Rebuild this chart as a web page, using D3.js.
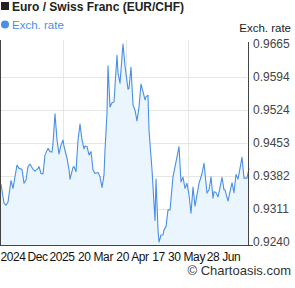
<!DOCTYPE html>
<html>
<head>
<meta charset="utf-8">
<script src="https://d3js.org/d3.v7.min.js"></script>
<style>
  body { margin: 0; background: #fff; }
  text { font-family: "Liberation Sans", Arial, sans-serif; }
</style>
</head>
<body>
<div class="chart"></div>
<script>
// day offsets along the x axis and the EUR/CHF rate
var days = [0,3,5,7,10,12,14,16,18,21,23,25,27,29,32,34,37,38,40,42,
  44,47,49,51,52,54,56,58,60,62,63,66,68,69,72,73,75,77,79,81,
  83,84,86,88,90,92,94,97,99,101,103,104,106,107,109,111,113,116,117,119,
  122,124,127,128,130,132,134,136,138,140,142,144,145,147,148,151,152,154,155,157,
  158,160,162,163,165,167,169,172,175,178,180,182,184,186,188,190,192,194,196,198,
  201,203,206,208,210,212,213,215,217,218,221,223,224,227,229,231,233,235,237,239,
  241,243,246,248];
var rates = [0.9364,0.9323,0.9319,0.9326,0.9372,0.9355,0.9380,0.9405,0.9398,0.9396,
  0.9366,0.9373,0.9402,0.9407,0.9396,0.9392,0.9398,0.9402,0.9387,0.9386,
  0.9427,0.9441,0.9434,0.9433,0.9452,0.9515,0.9459,0.9429,0.9448,0.9459,
  0.9445,0.9420,0.9395,0.9375,0.9400,0.9402,0.9391,0.9459,0.9493,0.9459,
  0.9440,0.9446,0.9445,0.9427,0.9434,0.9395,0.9387,0.9389,0.9380,0.9357,
  0.9384,0.9437,0.9517,0.9618,0.9530,0.9539,0.9541,0.9641,0.9603,0.9581,
  0.9665,0.9618,0.9568,0.9570,0.9615,0.9534,0.9523,0.9500,0.9530,0.9579,
  0.9563,0.9545,0.9552,0.9555,0.9480,0.9395,0.9359,0.9286,0.9375,0.9266,
  0.9240,0.9255,0.9255,0.9266,0.9273,0.9309,0.9309,0.9380,0.9412,0.9445,
  0.9369,0.9379,0.9355,0.9366,0.9341,0.9302,0.9358,0.9317,0.9341,0.9366,
  0.9387,0.9409,0.9345,0.9352,0.9380,0.9334,0.9348,0.9346,0.9337,0.9346,
  0.9379,0.9352,0.9352,0.9328,0.9348,0.9367,0.9346,0.9385,0.9375,0.9398,
  0.9422,0.9377,0.9377,0.9398];

var yTicks = [0.9240, 0.9311, 0.9382, 0.9453, 0.9524, 0.9594, 0.9665];
var xGridDays = [62, 125, 187];
var xLabels = ["2024", "Dec", "2025", "20 Mar", "20 Apr", "17", "30 May", "28 Jun"];
var xLabelDays = [11.5, 36, 60.5, 94, 131, 157, 185, 222];

var svgWidth = 295;
var svgHeight = 288;
var margin = { top: 40, right: 46, bottom: 42, left: 1 };
var width = svgWidth - margin.left - margin.right;
var height = svgHeight - margin.top - margin.bottom;

var svg = d3.select(".chart")
  .append("svg")
  .attr("width", svgWidth)
  .attr("height", svgHeight);

var chart = svg.append("g")
  .attr("transform", "translate(" + margin.left + "," + margin.top + ")");

var xScale = d3.scaleLinear().domain([0, 248]).range([0, width]);
var yScale = d3.scaleLinear().domain([0.9240, 0.9665]).range([202, 4]);

var data = days.map(function(d, i) { return { day: d, rate: rates[i] }; });

// grid
chart.selectAll(".hgrid")
  .data(yTicks.slice(1, -1))
  .enter().append("line")
    .attr("x1", 0).attr("x2", width - 2)
    .attr("y1", function(d) { return Math.round(yScale(d)) + 0.5; })
    .attr("y2", function(d) { return Math.round(yScale(d)) + 0.5; })
    .attr("stroke", "#e6e6e6");

chart.selectAll(".vgrid")
  .data(xGridDays)
  .enter().append("line")
    .attr("x1", function(d) { return Math.round(xScale(d)) + 0.5; })
    .attr("x2", function(d) { return Math.round(xScale(d)) + 0.5; })
    .attr("y1", 0).attr("y2", height)
    .attr("stroke", "#e6e6e6");

// area + line
var area = d3.area()
  .x(function(d) { return xScale(d.day); })
  .y0(height)
  .y1(function(d) { return yScale(d.rate); });

var line = d3.line()
  .x(function(d) { return xScale(d.day); })
  .y(function(d) { return yScale(d.rate); });

chart.append("path")
  .datum(data)
  .attr("d", area)
  .attr("fill", "#ebf5fe");

chart.append("path")
  .datum(data)
  .attr("d", line)
  .attr("fill", "none")
  .attr("stroke", "#4a8fe6")
  .attr("stroke-width", 1.1)
  .attr("stroke-linejoin", "round");

// frame
chart.append("line").attr("x1", -0.5).attr("x2", -0.5).attr("y1", 0).attr("y2", height)
  .attr("stroke", "#444");
chart.append("line").attr("x1", -1).attr("x2", width + 4).attr("y1", height - 0.5).attr("y2", height - 0.5)
  .attr("stroke", "#444");
chart.append("line").attr("x1", width - 0.5).attr("x2", width - 0.5).attr("y1", 2).attr("y2", height)
  .attr("stroke", "#444");

// y axis labels on the right
var rightAxis = d3.axisRight(yScale)
  .tickValues(yTicks)
  .tickSize(0)
  .tickPadding(4)
  .tickFormat(d3.format(".4f"));

var yAxisG = chart.append("g")
  .attr("transform", "translate(" + width + ",0)")
  .call(rightAxis);
yAxisG.select(".domain").remove();
yAxisG.selectAll("text")
  .attr("font-family", "Liberation Sans, Arial, sans-serif")
  .attr("font-size", 12)
  .attr("fill", "#444");

// x axis labels
var bottomAxis = d3.axisBottom(xScale)
  .tickValues(xLabelDays)
  .tickSize(0)
  .tickPadding(6)
  .tickFormat(function(d, i) { return xLabels[i]; });

var xAxisG = chart.append("g")
  .attr("transform", "translate(0," + height + ")")
  .call(bottomAxis);
xAxisG.select(".domain").remove();
xAxisG.selectAll("text")
  .attr("font-family", "Liberation Sans, Arial, sans-serif")
  .attr("font-size", 12)
  .attr("letter-spacing", -0.4)
  .attr("fill", "#111");

// title and legend
svg.append("rect").attr("x", 1).attr("y", 2).attr("width", 8).attr("height", 8).attr("fill", "#222");
svg.append("text").attr("x", 12).attr("y", 10.5)
  .attr("font-size", 12).attr("font-weight", "bold").attr("fill", "#222")
  .text("Euro / Swiss Franc (EUR/CHF)");

svg.append("circle").attr("cx", 5).attr("cy", 24.5).attr("r", 4).attr("fill", "#4a8fe6");
svg.append("text").attr("x", 12).attr("y", 28.5)
  .attr("font-size", 11.5).attr("fill", "#4a8fe6")
  .text("Exch. rate");

svg.append("text").attr("x", 291).attr("y", 32)
  .attr("text-anchor", "end")
  .attr("font-size", 11.5).attr("fill", "#222")
  .text("Exch. rate");

svg.append("text").attr("x", 291).attr("y", 275)
  .attr("text-anchor", "end")
  .attr("font-size", 13).attr("fill", "#333")
  .text("© Chartoasis.com");
</script>
</body>
</html>
